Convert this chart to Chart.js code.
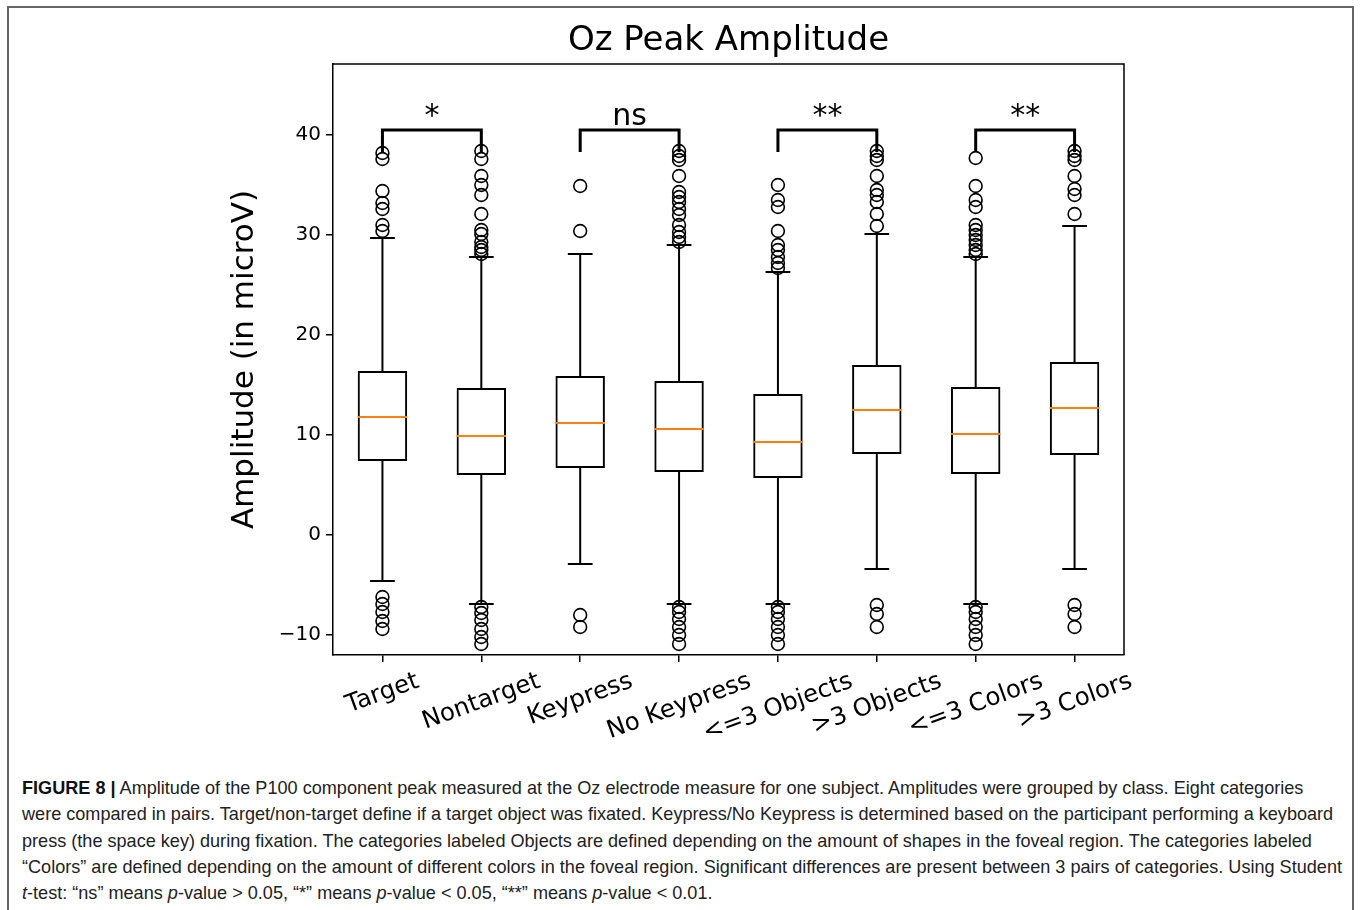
<!DOCTYPE html>
<html>
<head>
<meta charset="utf-8">
<title>Oz Peak Amplitude</title>
<script src="https://cdn.jsdelivr.net/npm/chart.js@4.4.1/dist/chart.umd.min.js"></script>
<style>
    html, body { margin: 0; padding: 0; background: #fff; overflow: hidden; }
    body { width: 1360px; height: 910px; position: relative; }
    .frame {
        position: absolute; left: 7px; top: 6px; width: 1343px; height: 940px;
        border: 2px solid #666; border-bottom: none;
    }
    #chartCanvas { position: absolute; left: 0; top: 0; }
    .caption {
        position: absolute; left: 22px; top: 775px; width: 1330px;
        font-family: "Liberation Sans", Arial, sans-serif; font-size: 18.1px;
        line-height: 26.3px; color: #222; white-space: nowrap;
    }
    .caption b { font-weight: bold; color: #111; }
</style>
</head>
<body>
<div class="frame"></div>
<canvas id="chartCanvas" width="1360" height="770"></canvas>
<div class="caption">
    <div><b>FIGURE 8 |</b> Amplitude of the P100 component peak measured at the Oz electrode measure for one subject. Amplitudes were grouped by class. Eight categories</div>
    <div>were compared in pairs. Target/non-target define if a target object was fixated. Keypress/No Keypress is determined based on the participant performing a keyboard</div>
    <div>press (the space key) during fixation. The categories labeled Objects are defined depending on the amount of shapes in the foveal region. The categories labeled</div>
    <div>“Colors” are defined depending on the amount of different colors in the foveal region. Significant differences are present between 3 pairs of categories. Using Student</div>
    <div><i>t</i>-test: “ns” means <i>p</i>-value &gt; 0.05, “*” means <i>p</i>-value &lt; 0.05, “**” means <i>p</i>-value &lt; 0.01.</div>
</div>
<script>
// Categories and box statistics
const categories = ['Target', 'Nontarget', 'Keypress', 'No Keypress', '<=3 Objects', '>3 Objects', '<=3 Colors', '>3 Colors'];
const whiskerLow = [-4.6, -6.9, -2.9, -6.9, -6.9, -3.4, -6.9, -3.4];
const q1 = [7.4, 6.0, 6.7, 6.3, 5.7, 8.1, 6.1, 8.0];
const medians = [11.8, 9.9, 11.2, 10.6, 9.3, 12.5, 10.1, 12.7];
const q3 = [16.4, 14.7, 15.9, 15.4, 14.1, 17.0, 14.8, 17.3];
const whiskerHigh = [29.7, 27.8, 28.1, 29.0, 26.3, 30.1, 27.8, 30.9];

// Outliers for each category
const outliers = [
    [38.2, 37.6, 34.4, 33.2, 32.6, 31.0, 30.4, -6.2, -6.9, -7.7, -8.6, -9.4],
    [38.4, 37.6, 35.9, 35.0, 34.0, 32.1, 30.5, 30.1, 29.3, 28.8, 28.5, 28.1, -7.2, -7.8, -8.5, -9.4, -10.2, -10.9],
    [34.9, 30.4, -8.0, -9.2],
    [38.4, 37.9, 37.5, 35.9, 34.3, 33.8, 33.3, 32.6, 32.0, 31.0, 30.3, 29.8, 29.3, -7.2, -7.7, -8.4, -9.2, -10.0, -10.9],
    [35.0, 33.5, 32.8, 30.4, 29.0, 28.5, 27.8, 27.2, 26.7, -7.2, -7.7, -8.4, -9.2, -10.0, -10.9],
    [38.4, 37.9, 37.5, 35.9, 34.5, 34.0, 33.3, 32.1, 30.9, -7.0, -7.9, -9.2],
    [37.7, 34.9, 33.5, 32.8, 31.0, 30.5, 30.0, 29.5, 29.0, 28.5, 28.1, -7.2, -7.7, -8.4, -9.2, -10.0, -10.9],
    [38.4, 37.9, 37.5, 35.9, 34.6, 34.0, 32.1, -7.0, -7.9, -9.2]
];

// Significance brackets
const sigPairs = [[0, 1], [2, 3], [4, 5], [6, 7]];
const sigLabels = ['*', 'ns', '**', '**'];
const bracketTop = 40.5;
const bracketLeg = 38.3;

// Axis
const yTickValues = [-10, 0, 10, 20, 30, 40];
const yMin = -12;
const yMax = 47.1;
const chartTitle = 'Oz Peak Amplitude';

const FONT = '"DejaVu Sans", Verdana, sans-serif';

// Build scatter points for outliers
function buildOutlierPoints() {
    const points = [];
    outliers.forEach((list, i) => {
        list.forEach(v => points.push({ x: categories[i], y: v }));
    });
    return points;
}

// Whiskers, medians, brackets, frame, title and rotated labels
const boxExtras = {
    id: 'boxExtras',
    afterDatasetsDraw(chart) {
        const { ctx, scales: { x, y } } = chart;
        const step = x.getPixelForTick(1) - x.getPixelForTick(0);
        const boxHalf = step * 0.25;
        const capHalf = step * 0.125;

        ctx.save();
        ctx.strokeStyle = '#000';
        ctx.lineWidth = 2;
        ctx.lineCap = 'butt';
        categories.forEach((c, i) => {
            const px = x.getPixelForTick(i);
            ctx.beginPath();
            ctx.moveTo(px, y.getPixelForValue(q3[i]));
            ctx.lineTo(px, y.getPixelForValue(whiskerHigh[i]));
            ctx.moveTo(px, y.getPixelForValue(q1[i]));
            ctx.lineTo(px, y.getPixelForValue(whiskerLow[i]));
            ctx.moveTo(px - capHalf, y.getPixelForValue(whiskerHigh[i]));
            ctx.lineTo(px + capHalf, y.getPixelForValue(whiskerHigh[i]));
            ctx.moveTo(px - capHalf, y.getPixelForValue(whiskerLow[i]));
            ctx.lineTo(px + capHalf, y.getPixelForValue(whiskerLow[i]));
            ctx.stroke();
        });

        // Medians
        ctx.strokeStyle = '#ff7f0e';
        ctx.lineWidth = 2;
        categories.forEach((c, i) => {
            const px = x.getPixelForTick(i);
            const py = y.getPixelForValue(medians[i]);
            ctx.beginPath();
            ctx.moveTo(px - boxHalf, py);
            ctx.lineTo(px + boxHalf, py);
            ctx.stroke();
        });

        // Significance brackets
        ctx.strokeStyle = '#000';
        ctx.lineWidth = 3;
        ctx.lineJoin = 'miter';
        ctx.fillStyle = '#000';
        ctx.font = '30px ' + FONT;
        ctx.textAlign = 'center';
        ctx.textBaseline = 'alphabetic';
        sigPairs.forEach((pair, k) => {
            const x1 = x.getPixelForTick(pair[0]);
            const x2 = x.getPixelForTick(pair[1]);
            const yt = y.getPixelForValue(bracketTop);
            const yl = y.getPixelForValue(bracketLeg);
            ctx.beginPath();
            ctx.moveTo(x1, yl);
            ctx.lineTo(x1, yt);
            ctx.lineTo(x2, yt);
            ctx.lineTo(x2, yl);
            ctx.stroke();
            ctx.fillText(sigLabels[k], (x1 + x2) / 2, yt - 5);
        });

        // Top and right spines
        const area = chart.chartArea;
        ctx.lineWidth = 1.5;
        ctx.beginPath();
        ctx.moveTo(area.left, area.top);
        ctx.lineTo(area.right, area.top);
        ctx.lineTo(area.right, area.bottom);
        ctx.stroke();
        ctx.restore();
    },
    afterDraw(chart) {
        const { ctx, scales: { x } } = chart;
        const area = chart.chartArea;

        // Title centred over the axes
        ctx.save();
        ctx.font = '34px ' + FONT;
        ctx.fillStyle = '#000';
        ctx.textAlign = 'center';
        ctx.textBaseline = 'alphabetic';
        ctx.fillText(chartTitle, (area.left + area.right) / 2, 50);
        ctx.restore();

        // Rotated category labels
        const angle = -20 * Math.PI / 180;
        const top = area.bottom + 13;
        const size = 24.5;
        ctx.save();
        ctx.font = size + 'px ' + FONT;
        ctx.fillStyle = '#000';
        ctx.textAlign = 'center';
        ctx.textBaseline = 'middle';
        categories.forEach((label, i) => {
            const w = ctx.measureText(label).width;
            const h = size * 1.1;
            const boxH = w * Math.sin(-angle) + h * Math.cos(angle);
            const px = x.getPixelForTick(i);
            ctx.save();
            ctx.translate(px, top + boxH / 2);
            ctx.rotate(angle);
            ctx.fillText(label, 0, 0);
            ctx.restore();
        });
        ctx.restore();
    }
};

function initializeChart() {
    const ctx = document.getElementById('chartCanvas');
    new Chart(ctx, {
        type: 'bar',
        data: {
            labels: categories,
            datasets: [
                {
                    type: 'bar',
                    label: 'IQR',
                    data: q1.map((v, i) => [v, q3[i]]),
                    backgroundColor: 'rgba(0,0,0,0)',
                    borderColor: '#000',
                    borderWidth: 2,
                    borderSkipped: false,
                    barPercentage: 0.5,
                    categoryPercentage: 1.0
                },
                {
                    type: 'scatter',
                    label: 'Outliers',
                    data: buildOutlierPoints(),
                    pointStyle: 'circle',
                    pointRadius: 6.4,
                    pointBorderWidth: 1.6,
                    pointBackgroundColor: 'rgba(0,0,0,0)',
                    pointBorderColor: '#000'
                }
            ]
        },
        options: {
            responsive: false,
            animation: false,
            devicePixelRatio: 1,
            layout: {
                padding: { left: 223, right: 236, top: 64, bottom: 5 }
            },
            plugins: {
                legend: { display: false },
                tooltip: { enabled: false },
                title: { display: false }
            },
            scales: {
                x: {
                    type: 'category',
                    offset: true,
                    grid: {
                        offset: false,
                        drawOnChartArea: false,
                        drawTicks: true,
                        tickLength: 7,
                        color: '#000',
                        lineWidth: 1.5
                    },
                    border: { display: true, color: '#000', width: 1.5 },
                    ticks: { display: false },
                    afterFit: (scale) => { scale.height = 110; }
                },
                y: {
                    type: 'linear',
                    min: yMin,
                    max: yMax,
                    afterBuildTicks: (scale) => {
                        scale.ticks = yTickValues.map(v => ({ value: v }));
                    },
                    afterFit: (scale) => { scale.width = 110; },
                    grid: {
                        drawOnChartArea: false,
                        drawTicks: true,
                        tickLength: 7,
                        color: '#000',
                        lineWidth: 1.5
                    },
                    border: { display: true, color: '#000', width: 1.5 },
                    ticks: {
                        color: '#000',
                        padding: 5,
                        font: { family: FONT, size: 20 },
                        callback: (value) => String(value).replace('-', '\u2212')
                    },
                    title: {
                        display: true,
                        text: 'Amplitude (in microV)',
                        color: '#000',
                        font: { family: FONT, size: 31, lineHeight: 1.2 },
                        padding: { top: 3, bottom: 0 }
                    }
                }
            }
        },
        plugins: [boxExtras]
    });
}

document.addEventListener('DOMContentLoaded', () => {
    initializeChart();
});
</script>
</body>
</html>
